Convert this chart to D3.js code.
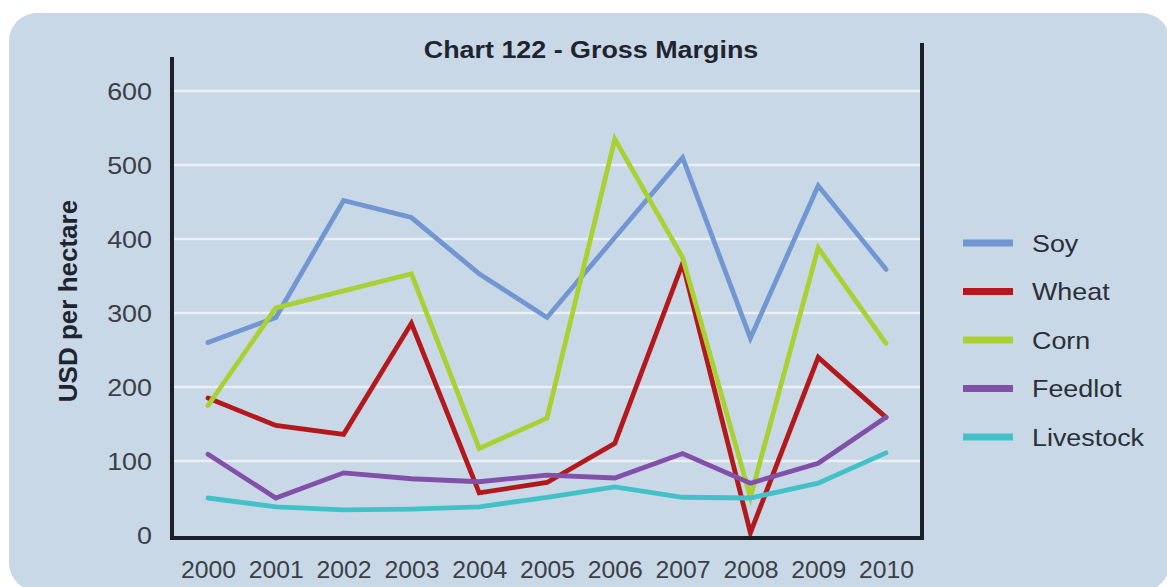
<!DOCTYPE html>
<html>
<head>
<meta charset="utf-8">
<script src="https://cdn.jsdelivr.net/npm/d3@7"></script>
<style>
  html, body { margin: 0; padding: 0; background: #ffffff; }
  svg { display: block; }
</style>
</head>
<body>
<svg id="chart" width="1167" height="587"></svg>
<script>
// ---- data ----
const years = ["2000","2001","2002","2003","2004","2005","2006","2007","2008","2009","2010"];
const yTicks = [0, 100, 200, 300, 400, 500, 600];
const seriesNames = ["Soy", "Wheat", "Corn", "Feedlot", "Livestock"];
const seriesColors = ["#7097d1", "#b3191c", "#a9d133", "#8250a8", "#43c1c9"];
const soy       = [260, 294, 452, 429, 353, 294, 402, 510, 266, 472, 359];
const wheat     = [185, 148, 136, 286, 57, 71, 124, 367, 3, 240, 159];
const corn      = [175, 307, 330, 353, 117, 158, 535, 375, 51, 388, 259];
const feedlot   = [109, 50, 84, 76, 72, 81, 77, 110, 70, 97, 159];
const livestock = [50, 38, 34, 35, 38, 51, 65, 51, 50, 70, 111];
const seriesValues = [soy, wheat, corn, feedlot, livestock];

const title = "Chart 122 - Gross Margins";
const yTitle = "USD per hectare";

// ---- layout ----
const svg = d3.select("#chart");
const plotLeft = 172, plotRight = 922;
const stretch = 1.12;
const font = "'Liberation Sans', Arial, Helvetica, sans-serif";

const x = d3.scalePoint().domain(years).range([208, 886]);
const y = d3.scaleLinear().domain([0, 600]).range([535, 91]);

// background panel
svg.append("rect")
  .attr("x", 9).attr("y", 13)
  .attr("width", 1161).attr("height", 578)
  .attr("rx", 28).attr("ry", 28)
  .attr("fill", "#c9d8e6");

// gridlines
svg.append("g")
  .selectAll("line")
  .data(yTicks.filter(d => d > 0))
  .join("line")
  .attr("x1", plotLeft + 2).attr("x2", plotRight - 2)
  .attr("y1", d => y(d)).attr("y2", d => y(d))
  .attr("stroke", "#eaf0f6")
  .attr("stroke-width", 2.5);

// y tick labels (via axis, domain hidden)
const yAxis = d3.axisLeft(y).tickValues(yTicks).tickSize(0).tickPadding(0);
const yg = svg.append("g").attr("transform", `translate(152,0)`).call(yAxis);
yg.select(".domain").remove();
yg.selectAll("text")
  .attr("font-family", font)
  .attr("font-size", 24)
  .attr("fill", "#3a3f48")
  .attr("dy", "0.36em")
  .attr("x", 0)
  .attr("text-anchor", "end")
  .attr("transform", `scale(${stretch},1)`);

// x tick labels
const xAxis = d3.axisBottom(x).tickSize(0).tickPadding(0);
const xg = svg.append("g").attr("transform", `translate(0,578)`).call(xAxis);
xg.select(".domain").remove();
xg.selectAll("text")
  .attr("font-family", font)
  .attr("font-size", 24)
  .attr("fill", "#3a3f48")
  .attr("dy", 0)
  .attr("y", 0)
  .attr("transform", `scale(1.03,1)`);

// series lines
const line = d3.line()
  .x((d, i) => x(years[i]))
  .y(d => y(d));

svg.append("g")
  .selectAll("path")
  .data(seriesValues)
  .join("path")
  .attr("d", d => line(d))
  .attr("fill", "none")
  .attr("stroke", (d, i) => seriesColors[i])
  .attr("stroke-width", 4.8)
  .attr("stroke-linejoin", "miter")
  .attr("stroke-linecap", "round");

// axis frame lines
const axisColor = "#1b1f28";
svg.append("line").attr("x1", plotLeft).attr("x2", plotLeft).attr("y1", 57).attr("y2", 540)
  .attr("stroke", axisColor).attr("stroke-width", 4);
svg.append("line").attr("x1", plotRight).attr("x2", plotRight).attr("y1", 43).attr("y2", 540)
  .attr("stroke", axisColor).attr("stroke-width", 4);
svg.append("line").attr("x1", plotLeft - 2).attr("x2", plotRight + 2).attr("y1", 538).attr("y2", 538)
  .attr("stroke", axisColor).attr("stroke-width", 4);

// title
svg.append("g").attr("transform", `translate(591,58) scale(${stretch},1)`)
  .append("text")
  .attr("text-anchor", "middle")
  .attr("font-family", font)
  .attr("font-size", 24)
  .attr("font-weight", "bold")
  .attr("fill", "#1f2530")
  .text(title);

// y-axis title
svg.append("text")
  .attr("transform", "translate(77,301) rotate(-90)")
  .attr("text-anchor", "middle")
  .attr("font-family", font)
  .attr("font-size", 26)
  .attr("font-weight", "bold")
  .attr("fill", "#1f2530")
  .text(yTitle);

// legend
const legendY = d3.scalePoint().domain(seriesNames).range([243, 437]);
const lg = svg.append("g");
const items = lg.selectAll("g").data(seriesNames).join("g")
  .attr("transform", d => `translate(0,${legendY(d)})`);
items.append("line")
  .attr("x1", 963).attr("x2", 1013).attr("y1", 0).attr("y2", 0)
  .attr("stroke", (d, i) => seriesColors[i])
  .attr("stroke-width", 7);
items.append("g").attr("transform", `translate(1032,0) scale(${stretch},1)`)
  .append("text")
  .attr("x", 0).attr("dy", "0.36em")
  .attr("font-family", font)
  .attr("font-size", 24)
  .attr("fill", "#2a2f38")
  .text(d => d);
</script>
</body>
</html>
